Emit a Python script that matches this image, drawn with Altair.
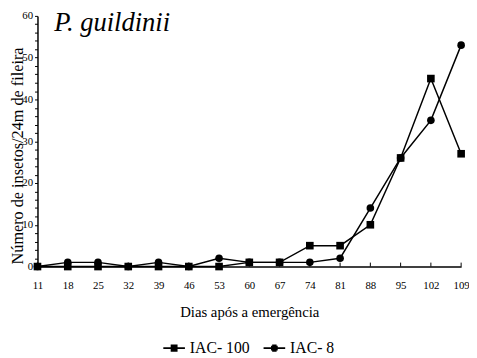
import altair as alt
import pandas as pd

days = [11, 18, 25, 32, 39, 46, 53, 60, 67, 74, 81, 88, 95, 102, 109]
iac100 = [0, 0, 0, 0, 0, 0, 0, 1, 1, 5, 5, 10, 26, 45, 27]
iac8 = [0, 1, 1, 0, 1, 0, 2, 1, 1, 1, 2, 14, 26, 35, 53]
series = ["IAC- 100", "IAC- 8"]
y_ticks = list(range(0, 61, 2))

rows = []
for d, a, b in zip(days, iac100, iac8):
    rows.append({"dia": d, "n": a, "serie": series[0]})
    rows.append({"dia": d, "n": b, "serie": series[1]})
df = pd.DataFrame(rows)
ticks_df = pd.DataFrame({"dia": days})

FONT = "Liberation Serif"
W, H = 431, 255

x_scale = alt.Scale(domain=[11, 109], nice=False, zero=False)
y_scale = alt.Scale(domain=[0, 60], nice=False)

x_axis = alt.Axis(values=days, title="Dias após a emergência", grid=False,
                  tickSize=0, labelPadding=13, labelFontSize=11,
                  labelOverlap=False, labelFlush=False,
                  titleFontSize=15, titlePadding=15)
y_axis = alt.Axis(values=y_ticks, title="Número de insetos/24m de fileira",
                  labelExpr="datum.value % 10 == 0 ? datum.label : ''",
                  labelOverlap=False, labelFlush=False,
                  grid=False, tickSize=3, labelPadding=2, labelFontSize=11,
                  titleFontSize=16.5, titleX=-15, titleY=142,
                  titleBaseline="alphabetic", titleAngle=270)

X = alt.X("dia:Q", scale=x_scale, axis=x_axis)
Y = alt.Y("n:Q", scale=y_scale, axis=y_axis)

base = alt.Chart(df)

lines = base.mark_line(color="black", strokeWidth=1.5).encode(
    x=X, y=Y, detail="serie:N")

squares = base.transform_filter(alt.datum.serie == series[0]).mark_point(
    shape="square", filled=True, color="black", size=60, opacity=1).encode(x=X, y=Y)

circles = base.transform_filter(alt.datum.serie == series[1]).mark_point(
    shape="circle", filled=True, color="black", size=60, opacity=1).encode(x=X, y=Y)

# legend glyphs: a horizontal line with a marker drawn by strokes
sq_path = ("M-2.2,0H2.2"
           "M-0.7,-0.6H0.7M-0.7,-0.3H0.7M-0.7,0.3H0.7M-0.7,0.6H0.7")
ci_path = ("M-2.2,0H2.2"
           "M-0.45,-0.6H0.45M-0.68,-0.3H0.68M-0.68,0.3H0.68M-0.45,0.6H0.45")

legend_layer = base.transform_filter("false").mark_point(
    filled=False, color="black", strokeWidth=1.6, opacity=1).encode(
    x=X, y=Y,
    shape=alt.Shape("serie:N",
                    scale=alt.Scale(domain=series, range=[sq_path, ci_path]),
                    legend=alt.Legend(title=None, orient="none", direction="horizontal",
                                      legendX=131, legendY=330,
                                      labelFontSize=16, labelOffset=8,
                                      columnPadding=10, symbolSize=100,
                                      symbolStrokeColor="black",
                                      symbolStrokeWidth=1.6)))

x_ticks = alt.Chart(ticks_df).mark_rule(color="black", strokeWidth=1).encode(
    x=alt.X("dia:Q", scale=x_scale, axis=x_axis), y=alt.value(H), y2=alt.value(H - 4))

chart = alt.layer(lines, x_ticks, squares, circles, legend_layer).properties(
    width=W, height=H,
    title=alt.TitleParams("P. guildinii", anchor="start", fontSize=27,
                          fontStyle="italic", fontWeight="normal", color="black",
                          dx=17, dy=31, frame="group"),
    autosize=alt.AutoSizeParams(type="none"),
    padding={"left": 30, "top": 5, "right": 8, "bottom": 90},
).configure(font=FONT).configure_view(stroke=None).configure_axis(
    domainWidth=1.5, domainColor="black", tickColor="black",
    labelColor="black", titleColor="black", labelFont=FONT, titleFont=FONT,
    titleFontWeight="normal", labelOverlap=False
).configure_legend(labelFont=FONT, labelColor="black").configure_title(font=FONT)

chart.save("out.html", embed_options={"renderer": "svg", "actions": False})
